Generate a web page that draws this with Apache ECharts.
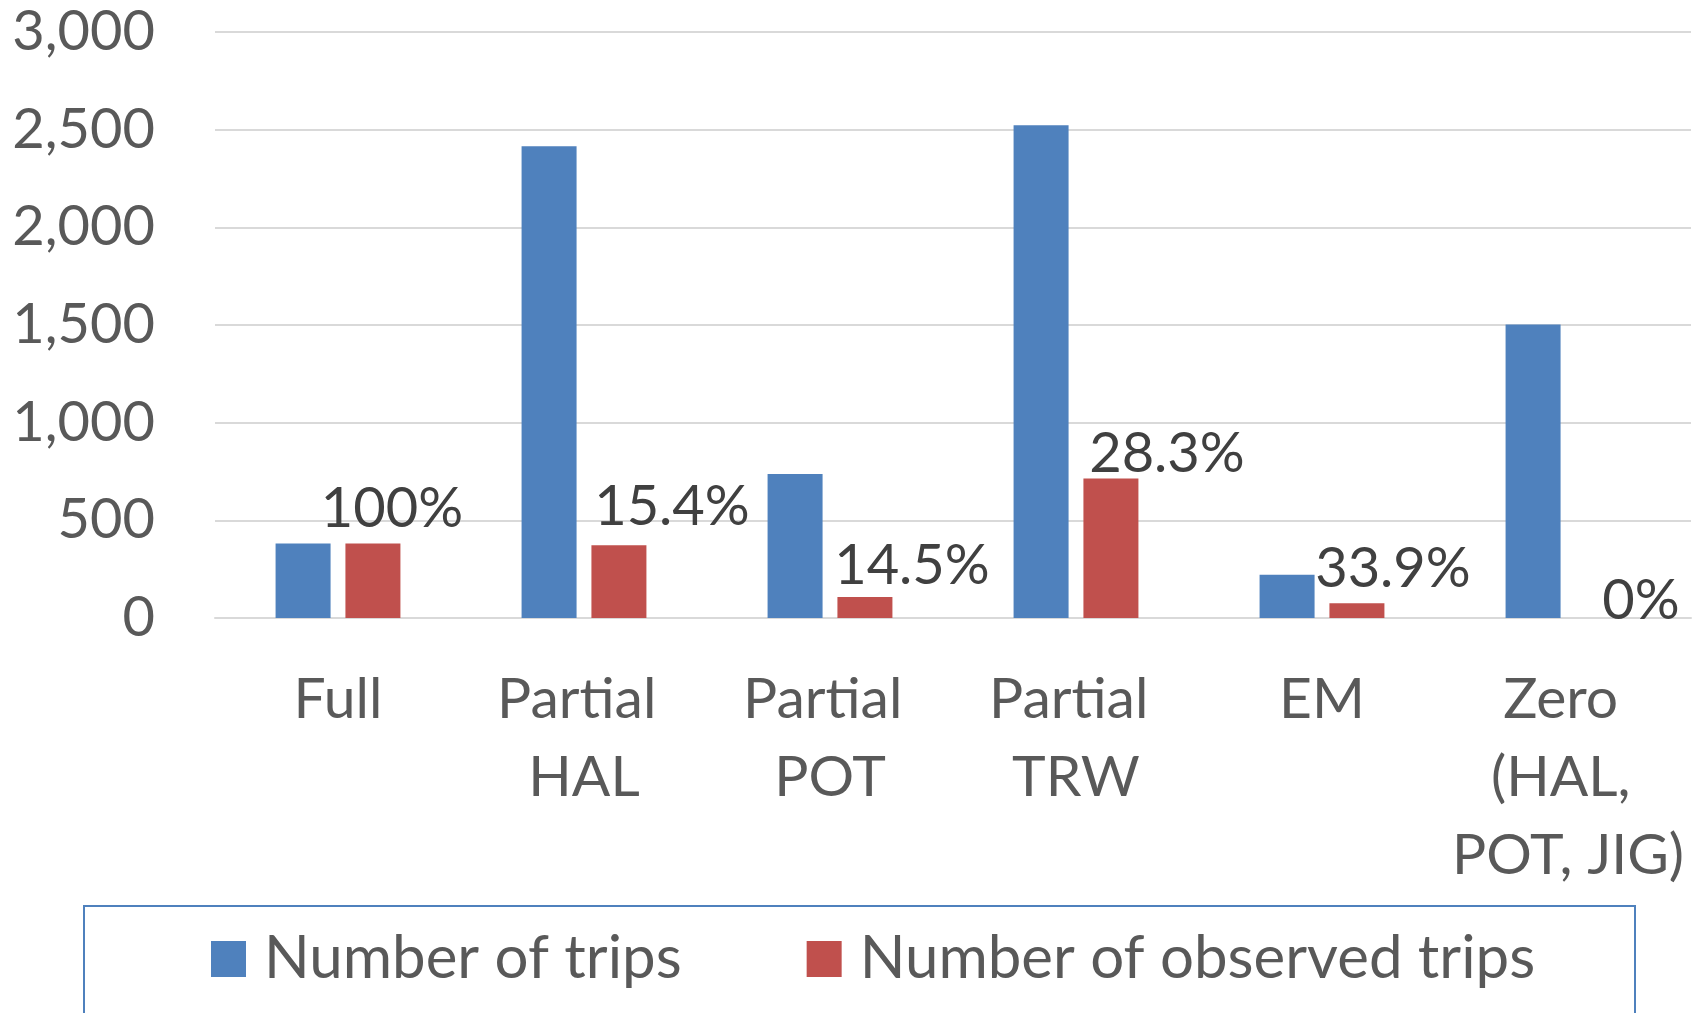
<!DOCTYPE html>
<html>
<head>
<meta charset="utf-8">
<script src="https://cdn.jsdelivr.net/npm/echarts@6/dist/echarts.min.js"></script>
<style>
html,body{margin:0;padding:0;background:#fff;}
#chart{width:1702px;height:1013px;}
</style>
</head>
<body>
<div id="chart"></div>
<script>
var categories = ['Full', 'Partial HAL', 'Partial POT', 'Partial TRW', 'EM', 'Zero (HAL, POT, JIG)'];
var tripsValues = [382, 2415, 737, 2522, 221, 1503];
var observedValues = [382, 372, 107, 714, 75, 0];
var observedPctLabels = ['100%', '15.4%', '14.5%', '28.3%', '33.9%', '0%'];
var yTicks = {min: 0, max: 3000, interval: 500};

// label placement tweaks (styling only)
var labelOffsets = [[19, -1], [53, -5], [47, 2], [56, 8], [36, -1], [38, 16]];

var FONT = 'Lato';
var chart = echarts.init(document.getElementById('chart'));
chart.setOption({
  animation: false,
  backgroundColor: '#ffffff',
  textStyle: {fontFamily: FONT},
  grid: {left: 215, right: 11, top: 32, height: 586, containLabel: false},
  xAxis: {
    type: 'category',
    data: categories,
    axisTick: {show: false},
    axisLine: {lineStyle: {color: '#D9D9D9', width: 2}},
    axisLabel: {
      interval: 0, fontSize: 57, color: '#595959', fontFamily: FONT,
      margin: 43, lineHeight: 78, width: 240, overflow: 'break'
    }
  },
  yAxis: {
    type: 'value',
    min: yTicks.min, max: yTicks.max, interval: yTicks.interval,
    axisLine: {show: false},
    axisTick: {show: false},
    splitLine: {lineStyle: {color: '#D9D9D9', width: 2}},
    axisLabel: {fontSize: 56, color: '#595959', fontFamily: FONT, margin: 60}
  },
  legend: {
    left: 206, top: 924,
    itemWidth: 35, itemHeight: 36, itemGap: 125,
    icon: 'rect',
    textStyle: {fontSize: 60, color: '#595959', fontFamily: FONT, padding: [0, 0, 0, 13]},
    data: ['Number of trips', 'Number of observed trips']
  },
  graphic: [{
    type: 'rect',
    shape: {x: 84, y: 906, width: 1551, height: 140},
    style: {fill: 'none', stroke: '#4F81BD', lineWidth: 2},
    silent: true
  }],
  series: [
    {
      name: 'Number of trips', type: 'bar',
      data: tripsValues,
      barWidth: 55, barGap: '27%',
      itemStyle: {color: '#4F81BD'}
    },
    {
      name: 'Number of observed trips', type: 'bar',
      data: observedValues.map(function (v, i) {
        return {value: v, label: {offset: labelOffsets[i]}};
      }),
      barWidth: 55, barGap: '27%',
      itemStyle: {color: '#C0504D'},
      label: {
        show: true, position: 'top', distance: 5,
        fontSize: 56, color: '#404040', fontFamily: FONT,
        formatter: function (p) { return observedPctLabels[p.dataIndex]; }
      }
    }
  ]
});
</script>
</body>
</html>
